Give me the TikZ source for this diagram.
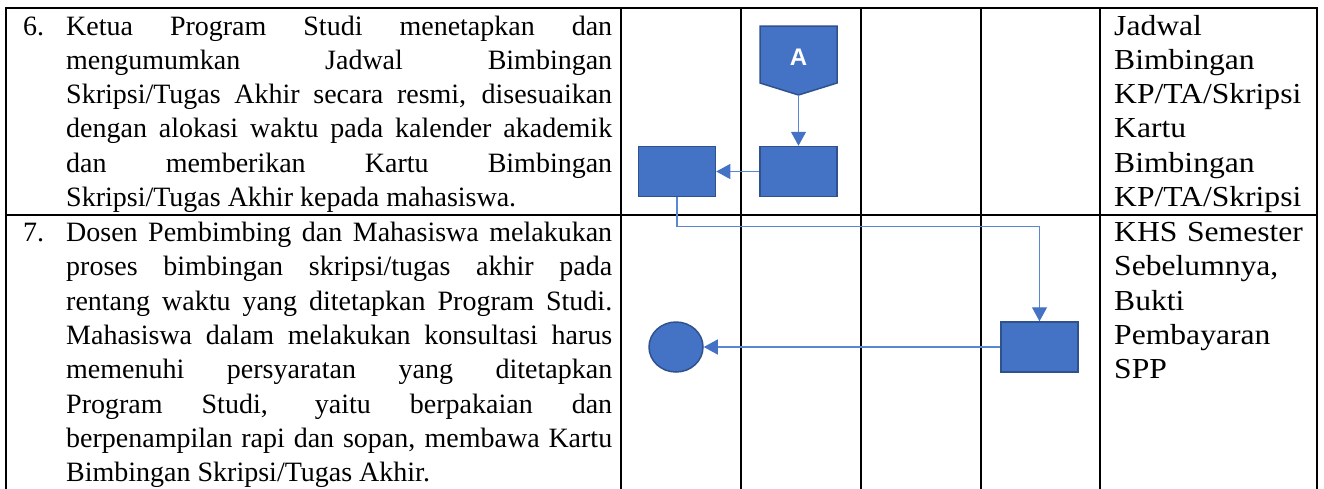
\documentclass[tikz,border=0pt]{standalone}
\usepackage{fontspec}
\setmainfont{Liberation Serif}
\newfontfamily\lfont{Liberation Serif}
\newfontfamily\rfont[FakeStretch=1.09]{Liberation Serif}
\newfontfamily\afont{Liberation Sans}
\usetikzlibrary{arrows.meta,shapes.geometric}
\definecolor{flowfill}{HTML}{4472C4}
\definecolor{flowedge}{HTML}{2F528F}
\definecolor{flowline}{HTML}{5B86D2}
\hyphenpenalty=10000
\exhyphenpenalty=10000
\begin{document}
\begin{tikzpicture}[x=1pt,y=-1pt,
  grid/.style={line width=2pt,black},
  proc/.style={draw=flowedge,fill=flowfill,line width=1.5pt,minimum width=77pt,minimum height=50pt,inner sep=0pt},
  term/.style={ellipse,draw=flowedge,fill=flowfill,line width=1.5pt,minimum width=54pt,minimum height=50pt,inner sep=0pt},
  flow/.style={draw=flowline,line width=1.2pt,-{Triangle[length=14pt,width=15pt,color=flowfill]}},
  desc/.style={anchor=base west,inner sep=0pt,text width=546pt,align=justify,font=\lfont\fontsize{28}{34.3}\selectfont},
  num/.style={anchor=base west,inner sep=0pt,font=\lfont\fontsize{28}{34.3}\selectfont},
  doc/.style={anchor=base west,inner sep=0pt,text width=205pt,align=left,font=\rfont\fontsize{29}{34.3}\selectfont}]
\useasboundingbox (0,0) rectangle (1324,488);
\fill[white] (0,0) rectangle (1324,488);
% table grid
\draw[grid] (6,489) -- (6,8) -- (1317,8) -- (1317,489);
\draw[grid] (6,215) -- (1317,215);
\foreach \cx in {621,741,861,981,1100} {\draw[grid] (\cx,8) -- (\cx,489);}
% row 6 text
\node[num] (n6) at (23,35) {6.};
\node[desc] (t6) at (66,35) {Ketua Program Studi menetapkan dan\linebreak
mengumumkan Jadwal Bimbingan\linebreak
Skripsi/Tugas Akhir secara resmi, disesuaikan\linebreak
dengan alokasi waktu pada kalender akademik\linebreak
dan memberikan Kartu Bimbingan\linebreak
Skripsi/Tugas Akhir kepada mahasiswa.};
% row 7 text
\node[num] (n7) at (23,241.5) {7.};
\node[desc] (t7) at (66,241.5) {Dosen Pembimbing dan Mahasiswa melakukan\linebreak
proses bimbingan skripsi/tugas akhir pada\linebreak
rentang waktu yang ditetapkan Program Studi.\linebreak
Mahasiswa dalam melakukan konsultasi harus\linebreak
memenuhi persyaratan yang ditetapkan\linebreak
Program Studi, yaitu berpakaian dan\linebreak
berpenampilan rapi dan sopan, membawa Kartu\linebreak
Bimbingan Skripsi/Tugas Akhir.};
% documents column
\node[doc] (d6) at (1114,35) {Jadwal\\Bimbingan\\KP/TA/Skripsi\\Kartu\\Bimbingan\\KP/TA/Skripsi};
\node[doc] (d7) at (1114,241.5) {KHS Semester\\Sebelumnya,\\Bukti\\Pembayaran\\SPP};
% off-page connector A
\draw[draw=flowedge,fill=flowfill,line width=1.5pt] (760,26) -- (837,26) -- (837,83) -- (798.5,95) -- (760,83) -- cycle;
\coordinate (conAtip) at (798.5,95);
\node[text=white,font=\afont\bfseries\fontsize{24}{24}\selectfont] (conA) at (798.5,57) {A};
% processes
\node[proc] (b2) at (798.5,171.5) {};
\node[proc] (b1) at (677,171.5) {};
\node[proc] (b5) at (1039.5,347) {};
\node[term] (c) at (676,347) {};
% connectors
\draw[flow] (conAtip) -- (b2.north);
\draw[flow] (b2.west) -- (b1.east);
\draw[flow] (b1.south) -- ++(0,29) -| (b5.north);
\draw[flow] (b5.west) -- (c.east);
\end{tikzpicture}
\end{document}
